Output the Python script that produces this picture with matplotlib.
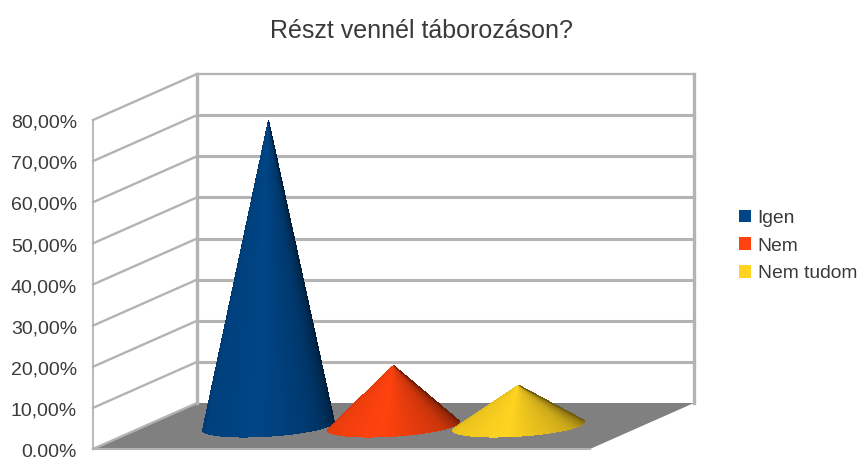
import numpy as np
import matplotlib
matplotlib.use('Agg')
import matplotlib.pyplot as plt
from matplotlib.collections import PolyCollection
from matplotlib.colors import to_rgb
from matplotlib.patches import Patch, Polygon
from matplotlib.transforms import ScaledTranslation

plt.rcParams['font.family'] = ['Liberation Sans', 'DejaVu Sans']

title = 'Részt vennél táborozáson?'
categories = ['Igen', 'Nem', 'Nem tudom']
values = [74.5, 14.8, 10.0]
colors = ['#004586', '#ff420e', '#ffd320']
yticks = [0, 10, 20, 30, 40, 50, 60, 70, 80]
ylabels = ['0.00%', '10,00%', '20,00%', '30,00%', '40,00%', '50,00%', '60,00%', '70,00%', '80,00%']

W, H = 857, 457
GRID = '#b3b3b3'
TEXT = '#3a3a3a'
XMAX = 497 / 125
DX, DY = 104 / 125, 46 / 329 * 80   # depth of the box in data units


def shift(x, y, d):
    # oblique projection, d=0 front plane, d=1 back wall
    return np.asarray(x) + d * DX, np.asarray(y) + d * DY


def draw_cone(ax, pos, val, color):
    r = 61 / 125
    rd = 0.24
    cx, cy = shift(pos, 0, 0.5)
    # apex in the unit circle coordinates of the base
    b = val / (rd * DY)
    a = -b * rd * DX / r
    phi = np.arctan2(b, a)
    alpha = np.arccos(1 / np.hypot(a, b))
    th = np.linspace(phi + alpha, phi + 2 * np.pi - alpha, 161)
    px = cx + r * np.cos(th) + rd * DX * np.sin(th)
    py = cy + rd * DY * np.sin(th)
    t = np.linspace(0, 1, 160)
    shade = np.interp(t, [0, 0.12, 0.45, 0.75, 1], [0.82, 0.92, 1.0, 0.8, 0.42])
    rgb = np.array(to_rgb(color))
    # smooth outline under the facets, the facets themselves are not antialiased
    outline = [(cx, cy + val)] + list(zip(px, py))
    ax.add_patch(Polygon(outline, closed=True, facecolor=rgb * 0.85, edgecolor='none',
                         clip_on=False, zorder=3))
    polys = []
    cols = []
    for i in range(160):
        polys.append([(cx, cy + val), (px[i], py[i]), (px[i + 1], py[i + 1])])
        cols.append(rgb * shade[i])
    ax.add_collection(PolyCollection(polys, facecolors=cols, edgecolors='none',
                                     antialiaseds=False, clip_on=False, zorder=4))


fig = plt.figure(figsize=(W / 100, H / 100), dpi=100)
ax = fig.add_axes([93 / W, 1 - 449 / H, 497 / W, 329 / H])
ax.set_xlim(0, XMAX)
ax.set_ylim(0, 80)
ax.patch.set_visible(False)
for s in ax.spines.values():
    s.set_visible(False)

# floor
fx, fy = shift(np.array([0, XMAX, XMAX, 0]), 0, np.array([0, 0, 1, 1]))
ax.fill(fx, fy, color='#808080', lw=0, clip_on=False, zorder=1)

# walls
for v in yticks:
    lw = 1.6 if v in (0, 80) else 2.2
    x0, y0 = shift(0, v, 0)
    x1, y1 = shift(0, v, 1)
    x2, y2 = shift(XMAX, v, 1)
    ax.plot([x0, x1], [y0, y1], color=GRID, lw=1.7, clip_on=False, zorder=2)
    if v > 0:
        ax.plot([x1, x2], [y1, y2], color=GRID, lw=lw, clip_on=False, zorder=2)
ax.plot([0, 0], [0, 80], color=GRID, lw=1.3, clip_on=False, zorder=2)
for xx in (0, XMAX):
    bx, by = shift(xx, 0, 1)
    ax.plot([bx, bx], [by, by + 80], color=GRID, lw=2.4, clip_on=False, zorder=2)
ax.plot([0, XMAX], [0, 0], color=GRID, lw=1.5, clip_on=False, zorder=2)

# cones, one category with three series
for i in range(len(values)):
    draw_cone(ax, XMAX / 2 + i - 1, values[i], colors[i])

ax.set_xticks([])
ax.set_yticks(yticks)
ax.set_yticklabels(ylabels, fontsize=14, color=TEXT)
ax.tick_params(axis='y', length=0, pad=11.5)
down = ScaledTranslation(0, -1.2 / 100, fig.dpi_scale_trans)
for lab in ax.get_yticklabels():
    lab.set_transform(lab.get_transform() + down)

fig.text(421.5 / W, 1 - 31.5 / H, title, fontsize=18, color=TEXT, ha='center', va='center')

handles = [Patch(facecolor=c, edgecolor='none') for c in colors]
fig.legend(handles, categories, loc='center left', bbox_to_anchor=(739 / W, 1 - 246 / H),
           frameon=False, fontsize=13.9, labelcolor=TEXT, handlelength=0.62, handleheight=0.62,
           handletextpad=0.35, labelspacing=0.56, borderpad=0, borderaxespad=0)

fig.savefig('out.png', dpi=100)
